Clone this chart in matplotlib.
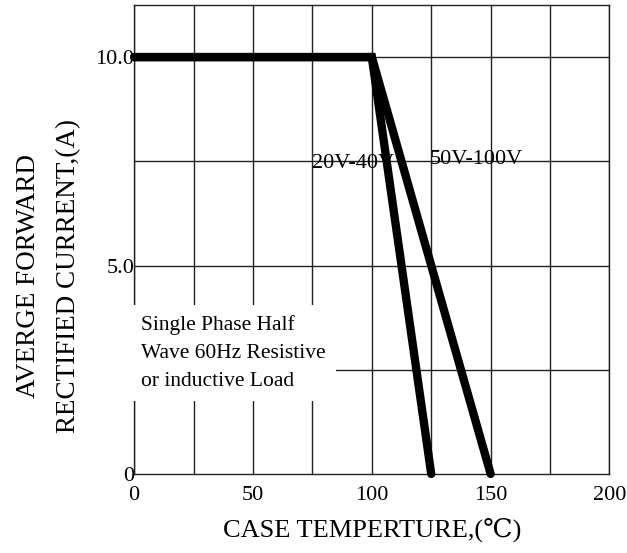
import matplotlib
matplotlib.use('Agg')
import matplotlib.pyplot as plt

# derating curve data (case temperature in C, current in A)
temp_20_40 = [0, 100, 125]
curr_20_40 = [10.0, 10.0, 0.0]
temp_50_100 = [0, 100, 150]
curr_50_100 = [10.0, 10.0, 0.0]

x_ticks = [0, 50, 100, 150, 200]
y_ticks = [0, 5.0, 10.0]
y_tick_labels = ['0', '5.0', '10.0']

plt.rcParams['font.family'] = ['Liberation Serif', 'DejaVu Serif']

fig = plt.figure(figsize=(6.27, 5.53), dpi=100)
ax = fig.add_axes([0.214, 0.143, 0.758, 0.848])

# grid every 25 C and every 2.5 A
for gx in range(0, 201, 25):
    ax.axvline(gx, color='#222222', lw=1.0, zorder=1)
for gy in [2.5, 5.0, 7.5, 10.0]:
    ax.axhline(gy, color='#222222', lw=1.0, zorder=1)

ax.plot(temp_20_40, curr_20_40, color='black', lw=6,
        solid_capstyle='round', solid_joinstyle='miter', clip_on=False, zorder=4)
ax.plot(temp_50_100, curr_50_100, color='black', lw=6,
        solid_capstyle='round', solid_joinstyle='miter', clip_on=False, zorder=4)

ax.text(75, 7.68, '20V-40V', fontsize=16, va='top', ha='left', zorder=3)
ax.text(124.5, 7.78, '50V-100V', fontsize=16, va='top', ha='left', zorder=3)

ax.text(3, 3.82, 'Single Phase Half\nWave 60Hz Resistive\nor inductive Load',
        fontsize=15.5, va='top', ha='left', linespacing=1.66, zorder=3,
        bbox=dict(facecolor='white', edgecolor='none', pad=7))

ax.set_xlim(0, 200)
ax.set_ylim(0, 11.25)
ax.set_xticks(x_ticks)
ax.set_yticks(y_ticks)
ax.set_yticklabels(y_tick_labels)
ax.tick_params(length=0, labelsize=16)
ax.tick_params(axis='x', pad=9)
ax.tick_params(axis='y', pad=0)

for sp in ax.spines.values():
    sp.set_color('#222222')
    sp.set_linewidth(1.0)

ax.set_xlabel('CASE TEMPERTURE,(\u2103)', fontsize=19, labelpad=9)
ax.set_ylabel('AVERGE FORWARD\nRECTIFIED CURRENT,(A)', fontsize=19.5,
              linespacing=1.8)
ax.yaxis.set_label_coords(-0.112, 0.422)

fig.savefig('out.png', dpi=100)
